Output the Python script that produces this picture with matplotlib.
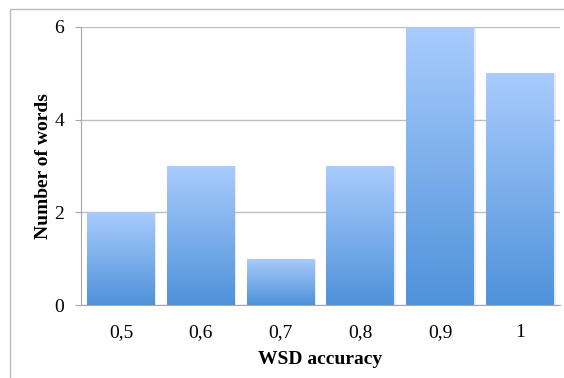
import matplotlib.pyplot as plt
import numpy as np
from matplotlib import patheffects
from matplotlib.colors import LinearSegmentedColormap
from matplotlib.patches import Rectangle

accuracy = ['0,5', '0,6', '0,7', '0,8', '0,9', '1']
n_words = [2, 3, 1, 3, 6, 5]

plt.rcParams['font.family'] = ['Liberation Serif', 'DejaVu Serif']

fig = plt.figure(figsize=(5.64, 3.78), dpi=100)
ax = fig.add_axes([0.1436, 0.193, 0.849, 0.7356])

# outer frame of the chart area
fig.patches.append(Rectangle((0.0177, -0.1), 1.2, 1.076, transform=fig.transFigure,
                             fill=False, edgecolor='#BBBBBB', linewidth=1.0))

grad_cmap = LinearSegmentedColormap.from_list('bar_grad', ['#4F92DA', '#A9CCFD'])
grad = np.linspace(0, 1, 256).reshape(-1, 1)

x = np.arange(len(accuracy))
bars = ax.bar(x, n_words, width=0.85, color='#7AAEEB', zorder=2,
              path_effects=[patheffects.SimplePatchShadow(offset=(1.2, -0.8), shadow_rgbFace='#999999', alpha=0.2),
                            patheffects.Normal()])
for bar in bars:
    bx, by = bar.get_x(), bar.get_y()
    im = ax.imshow(grad, cmap=grad_cmap, origin='lower', aspect='auto', zorder=3,
                   extent=[bx, bx + bar.get_width(), by, by + bar.get_height()])
    im.set_clip_path(bar)

ax.set_xlim(-0.5, len(accuracy) - 0.5)
ax.set_ylim(0, 6)
ax.set_yticks([0, 2, 4, 6])
ax.set_xticks(x)
ax.set_xticklabels(accuracy)
ax.yaxis.grid(True, color='#BEBEBE', linewidth=1.0, zorder=0)
ax.set_axisbelow(True)

for side in ['top', 'right']:
    ax.spines[side].set_visible(False)
ax.spines['left'].set_color('#A6A6A6')
ax.spines['bottom'].set_color('#A6A6A6')
ax.spines['bottom'].set_zorder(4)

ax.tick_params(axis='y', length=4, color='#A6A6A6', labelsize=14, pad=8)
ax.tick_params(axis='x', length=0, labelsize=14, pad=14)

ax.set_ylabel('Number of words', fontsize=14, fontweight='bold', labelpad=2)
ax.set_xlabel('WSD accuracy', fontsize=14, fontweight='bold', labelpad=7)

plt.savefig('out.png', dpi=100)
